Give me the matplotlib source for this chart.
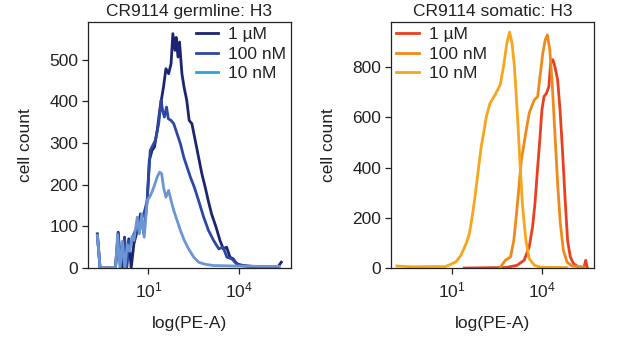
import numpy as np
import matplotlib
matplotlib.use("Agg")
import matplotlib.pyplot as plt
from matplotlib.ticker import FixedLocator, NullLocator, LogFormatterMathtext

plt.rcParams["font.family"] = ["Liberation Sans", "DejaVu Sans"]

# ---- germline panel (x in log10(PE-A)) ----
g_1uM_x = [-0.69, -0.60, -0.09, 0.00, 0.08, 0.14, 0.21, 0.28, 0.35, 0.43, 0.52, 0.63, 0.74, 0.85, 0.96,
           1.03, 1.12, 1.20, 1.29, 1.39, 1.50, 1.58, 1.67, 1.75, 1.81, 1.88, 1.92, 1.98, 2.03, 2.11,
           2.18, 2.27, 2.35, 2.44, 2.55, 2.66, 2.77, 2.88, 2.98, 3.09, 3.24, 3.37, 3.48, 3.59, 3.70,
           3.81, 3.92, 4.14, 4.46, 4.90, 5.29, 5.40]
g_1uM_y = [82, 0, 0, 86, 0, 0, 74, 0, 70, 0, 58, 90, 130, 82, 162,
           258, 282, 290, 330, 386, 434, 478, 466, 490, 562, 522, 553, 506, 542, 466,
           434, 402, 354, 346, 306, 266, 226, 194, 162, 130, 98, 66, 46, 50, 26,
           22, 10, 6, 4, 2, 3, 14]

g_100nM_x = [-0.69, -0.60, -0.09, 0.00, 0.08, 0.21, 0.28, 0.35, 0.43, 0.52, 0.63, 0.74, 0.85, 0.96,
             1.06, 1.23, 1.34, 1.42, 1.47, 1.53, 1.60, 1.66, 1.75, 1.84, 1.95, 2.06, 2.17, 2.28,
             2.39, 2.52, 2.66, 2.83, 2.99, 3.16, 3.33, 3.47, 3.60, 3.76, 3.87, 4.04, 4.46, 5.12]
g_100nM_y = [80, 0, 0, 84, 0, 70, 0, 66, 60, 82, 98, 114, 130, 162,
             282, 306, 346, 402, 378, 362, 386, 358, 354, 346, 322, 298, 266, 242,
             218, 194, 162, 122, 90, 66, 46, 50, 26, 22, 14, 6, 3, 2]

g_10nM_x = [-0.69, -0.60, -0.09, -0.02, 0.06, 0.14, 0.22, 0.30, 0.38, 0.46, 0.52, 0.63, 0.70, 0.78,
            0.86, 0.96, 1.07, 1.18, 1.29, 1.37, 1.44, 1.50, 1.58, 1.67, 1.75, 1.84, 1.95, 2.06,
            2.19, 2.33, 2.50, 2.66, 2.88, 3.15, 3.81, 4.68, 5.34]
g_10nM_y = [78, 0, 0, 80, 0, 64, 0, 56, 40, 76, 66, 122, 82, 130,
            74, 162, 174, 194, 218, 230, 226, 194, 170, 186, 162, 138, 114, 90,
            66, 46, 26, 14, 9, 6, 5, 4, 4]

# ---- somatic panel ----
s_1uM_x = [1.42, 2.00, 2.80, 3.17, 3.40, 3.57, 3.68, 3.76, 3.85, 3.92, 3.99, 4.06, 4.14, 4.22,
           4.28, 4.35, 4.42, 4.51, 4.59, 4.67, 4.76, 4.84, 4.93, 5.04, 5.21, 5.38, 5.44, 5.49]
s_1uM_y = [0, 1, 2, 11, 31, 84, 164, 257, 403, 510, 630, 683, 696, 723,
           816, 830, 803, 750, 630, 470, 270, 110, 44, 17, 4, 2, 31, 2]

s_100nM_x = [2.60, 2.78, 2.95, 3.06, 3.15, 3.23, 3.31, 3.40, 3.49, 3.57, 3.65, 3.74, 3.85, 3.94,
             4.02, 4.10, 4.17, 4.25, 4.33, 4.42, 4.51, 4.60, 4.70, 4.82, 4.99, 5.38]
s_100nM_y = [0, 31, 44, 110, 217, 324, 430, 497, 563, 617, 643, 670, 683, 776,
             856, 909, 929, 870, 736, 537, 337, 177, 71, 24, 8, 4]

s_10nM_x = [-0.81, -0.30, 0.30, 0.80, 1.14, 1.31, 1.48, 1.59, 1.68, 1.76, 1.87, 1.98, 2.06, 2.15,
            2.27, 2.44, 2.61, 2.72, 2.83, 2.92, 3.00, 3.08, 3.17, 3.26, 3.35, 3.46, 3.57, 3.74,
            3.97, 4.80]
s_10nM_y = [8, 5, 6, 6, 24, 51, 97, 137, 204, 270, 377, 483, 537, 603,
            656, 690, 730, 803, 896, 940, 896, 803, 630, 430, 244, 110, 37, 11,
            3, 2]

labels = ["1 \u00b5M", "100 nM", "10 nM"]
blue_cols = ["#1b2570", "#2c48a4", "#6c95d4"]
blue_leg3 = "#27a3de"
orange_cols = ["#e9401f", "#ef8a1a", "#f9a51c"]

FS = 12.5

fig = plt.figure(figsize=(6.17, 3.49), dpi=100)
ax1 = fig.add_axes([0.1426, 0.232, 0.329, 0.705])
ax2 = fig.add_axes([0.634, 0.232, 0.329, 0.705])


def panel(ax, series, cols, title, ylim, yticks):
    for (xs, ys), c, lab in zip(series, cols, labels):
        ax.plot(10.0 ** np.array(xs), ys, color=c, lw=2.0, label=lab)
    ax.set_xscale("log")
    ax.set_xlim(10 ** -1.0, 10 ** 5.72)
    ax.set_ylim(*ylim)
    ax.xaxis.set_major_locator(FixedLocator([10, 1e4]))
    ax.xaxis.set_major_formatter(LogFormatterMathtext())
    ax.xaxis.set_minor_locator(NullLocator())
    ax.set_yticks(yticks)
    ax.tick_params(direction="out", length=4, width=0.9, labelsize=FS, pad=3,
                   colors="#222222", labelcolor="#222222")
    ax.tick_params(axis="x", pad=5)
    for s in ax.spines.values():
        s.set_linewidth(0.9)
        s.set_color("#222222")
    ax.set_title(title, fontsize=FS, pad=4, color="#222222")
    ax.set_xlabel("log(PE-A)", fontsize=FS, labelpad=11, color="#222222")
    ax.set_ylabel("cell count", fontsize=FS, labelpad=12, color="#222222")
    leg = ax.legend(loc="upper right", frameon=False, fontsize=FS, handlelength=1.3,
                    handletextpad=0.55, labelspacing=0.25, borderaxespad=0.1,
                    borderpad=0.2)
    for t in leg.get_texts():
        t.set_color("#222222")
    return leg


leg1 = panel(ax1, [(g_1uM_x, g_1uM_y), (g_100nM_x, g_100nM_y), (g_10nM_x, g_10nM_y)],
             blue_cols, "CR9114 germline: H3", (0, 590), [0, 100, 200, 300, 400, 500])
leg1.get_lines()[2].set_color(blue_leg3)
leg2 = panel(ax2, [(s_1uM_x, s_1uM_y), (s_100nM_x, s_100nM_y), (s_10nM_x, s_10nM_y)],
             orange_cols, "CR9114 somatic: H3", (0, 980), [0, 200, 400, 600, 800])
leg2._loc = 2

fig.savefig("out.png", dpi=100)
